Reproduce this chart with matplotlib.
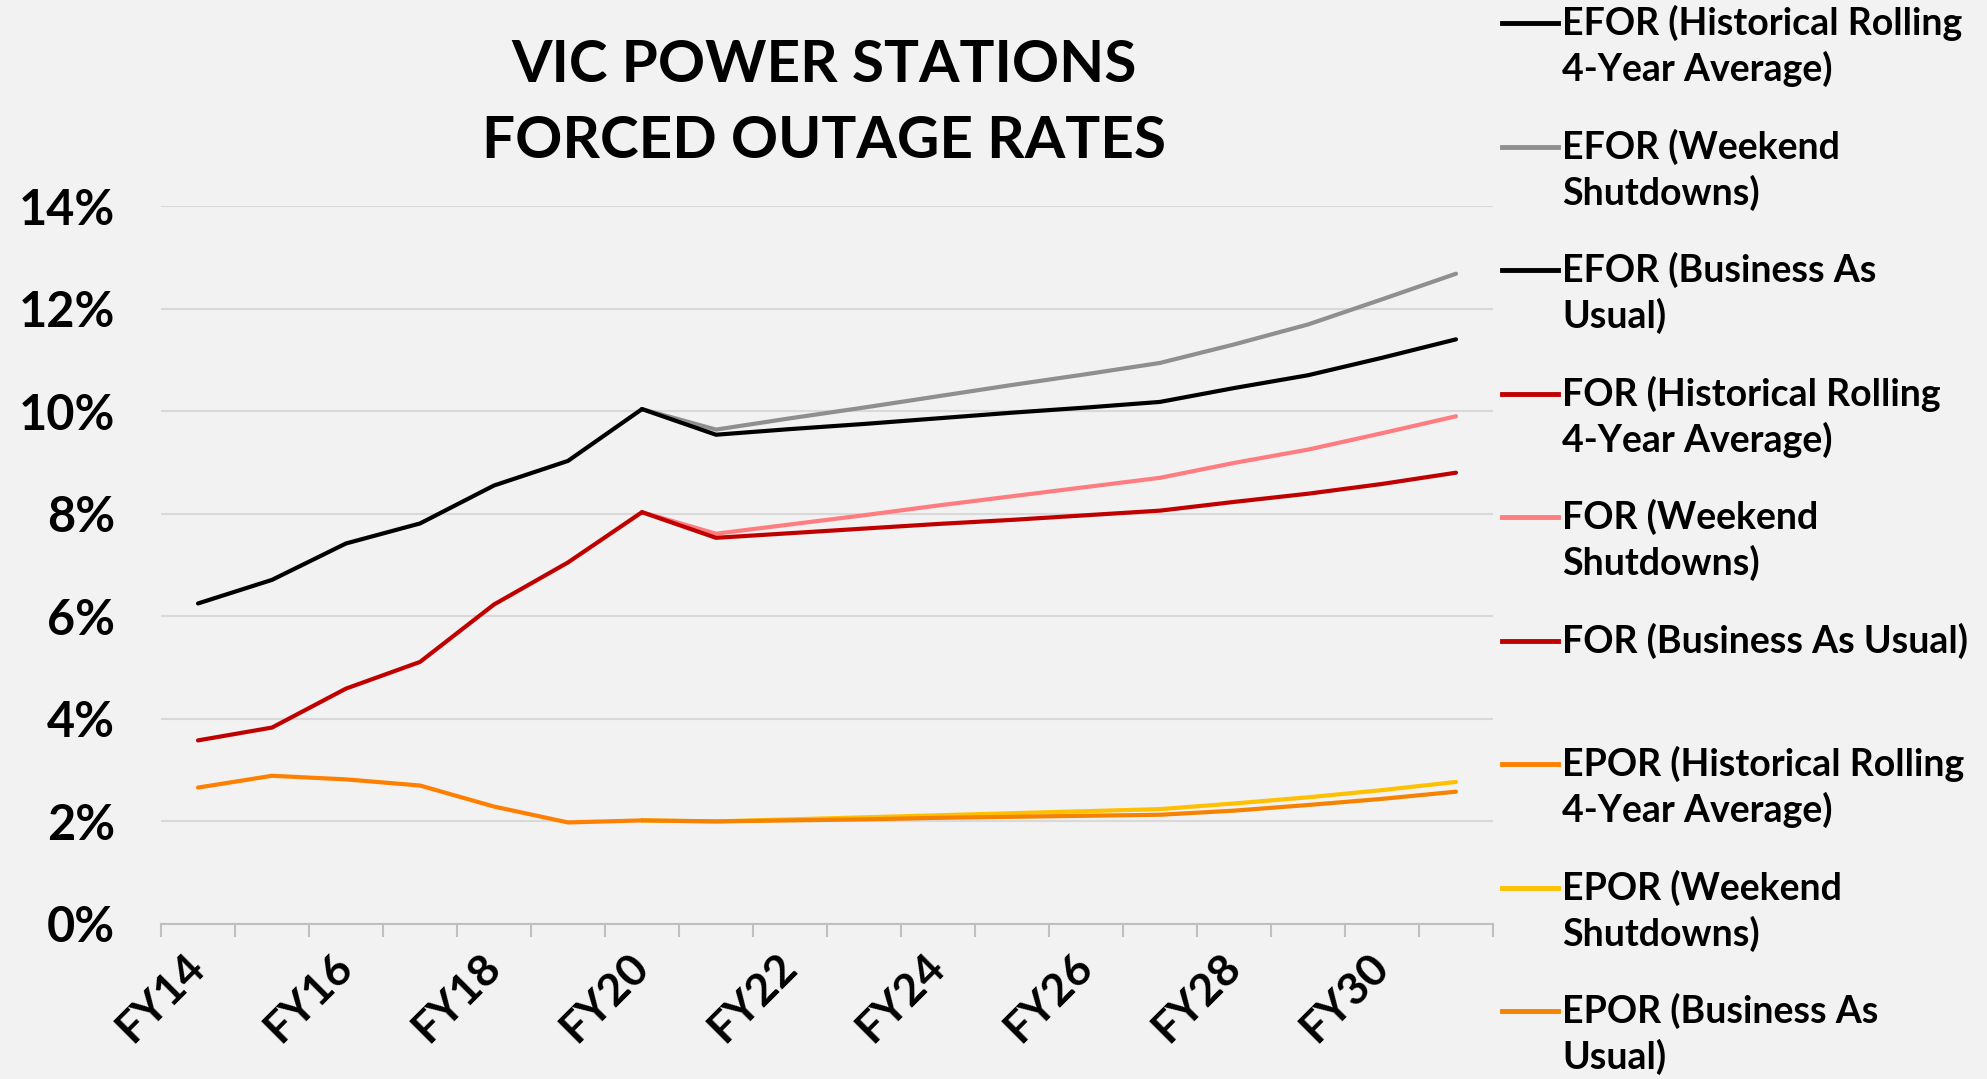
import matplotlib.pyplot as plt
from matplotlib.lines import Line2D
import numpy as np

plt.rcParams['font.family'] = ['Lato', 'DejaVu Sans']
plt.rcParams['font.weight'] = 'bold'

years = ['FY' + str(y) for y in range(14, 32)]
nan = np.nan

# values in percent
efor_hist = [6.25, 6.71, 7.42, 7.81, 8.55, 9.03, 10.04] + [nan] * 11
efor_wknd = [nan] * 6 + [10.04, 9.64, 9.86, 10.07, 10.29, 10.51, 10.72, 10.94, 11.30, 11.69, 12.18, 12.68]
efor_bau = [nan] * 6 + [10.04, 9.54, 9.65, 9.75, 9.86, 9.97, 10.07, 10.18, 10.45, 10.70, 11.04, 11.40]
for_hist = [3.58, 3.83, 4.59, 5.11, 6.23, 7.05, 8.03] + [nan] * 11
for_wknd = [nan] * 6 + [8.03, 7.61, 7.79, 7.97, 8.16, 8.34, 8.52, 8.70, 8.99, 9.25, 9.57, 9.90]
for_bau = [nan] * 6 + [8.03, 7.53, 7.62, 7.71, 7.80, 7.88, 7.97, 8.06, 8.23, 8.39, 8.58, 8.80]
epor_hist = [2.66, 2.89, 2.82, 2.70, 2.29, 1.98, 2.02] + [nan] * 11
epor_wknd = [nan] * 6 + [2.02, 2.00, 2.04, 2.08, 2.12, 2.16, 2.20, 2.24, 2.35, 2.47, 2.61, 2.77]
epor_bau = [nan] * 6 + [2.02, 2.00, 2.02, 2.04, 2.07, 2.09, 2.11, 2.13, 2.21, 2.32, 2.44, 2.58]

series = [
    ('EFOR (Historical Rolling\n4-Year Average)', efor_hist, '#000000'),
    ('EFOR (Weekend\nShutdowns)', efor_wknd, '#8F8F8F'),
    ('EFOR (Business As\nUsual)', efor_bau, '#000000'),
    ('FOR (Historical Rolling\n4-Year Average)', for_hist, '#C00000'),
    ('FOR (Weekend\nShutdowns)', for_wknd, '#FF7C80'),
    ('FOR (Business As Usual)', for_bau, '#C00000'),
    ('EPOR (Historical Rolling\n4-Year Average)', epor_hist, '#FF8000'),
    ('EPOR (Weekend\nShutdowns)', epor_wknd, '#FFC000'),
    ('EPOR (Business As\nUsual)', epor_bau, '#F58200'),
]
# draw order: weekend lines beneath business-as-usual
draw_order = [1, 4, 7, 0, 2, 3, 5, 6, 8]

bg = '#F2F2F2'
fig = plt.figure(figsize=(19.87, 10.79), dpi=100, facecolor=bg)
ax = fig.add_axes([161 / 1987, 1 - 924 / 1079, (1493 - 161) / 1987, (924 - 206) / 1079])
ax.set_facecolor(bg)

x = np.arange(len(years))
for i in draw_order:
    label, vals, color = series[i]
    ax.plot(x, vals, color=color, lw=3, solid_capstyle='round', solid_joinstyle='round')

ax.set_xlim(-0.5, len(years) - 0.5)
ax.set_ylim(0, 14)
ax.set_yticks(np.arange(0, 15, 2))
ax.set_yticklabels([f'{v}%' for v in range(0, 15, 2)], fontsize=35, fontweight='bold')
ax.tick_params(axis='y', length=0, pad=33)
ax.grid(axis='y', color='#D9D9D9', lw=1.5)
ax.set_axisbelow(True)

ax.set_xticks(x[::2])
ax.set_xticklabels(years[::2], rotation=45, ha='right', va='center',
                   rotation_mode='anchor', fontsize=32, fontweight='bold')
ax.set_xticks(np.arange(-0.5, len(years), 1), minor=True)
ax.tick_params(axis='x', which='major', length=0, pad=26)
ax.tick_params(axis='x', which='minor', length=9, color='#BFBFBF', width=1.5)

for s in ['top', 'right', 'left']:
    ax.spines[s].set_visible(False)
ax.spines['bottom'].set_color('#BFBFBF')
ax.spines['bottom'].set_linewidth(1.5)

fig.text(824 / 1987, 1 - 65 / 1079, 'VIC POWER STATIONS', ha='center', va='center',
         fontsize=42, fontweight='bold')
fig.text(824 / 1987, 1 - 141 / 1079, 'FORCED OUTAGE RATES', ha='center', va='center',
         fontsize=42, fontweight='bold')

# legend, drawn by hand so the key sits on the first text line
top = 23
step = 123.5
for k, (label, vals, color) in enumerate(series):
    yp = 1 - (top + k * step) / 1079
    fig.add_artist(Line2D([1502 / 1987, 1558 / 1987], [yp, yp], color=color, lw=3.5))
    fig.text(1562 / 1987, yp + 18 / 1079, label, ha='left', va='top', fontsize=27,
             fontweight='bold', linespacing=1.32)

fig.savefig('out.png', dpi=100, facecolor=bg)
